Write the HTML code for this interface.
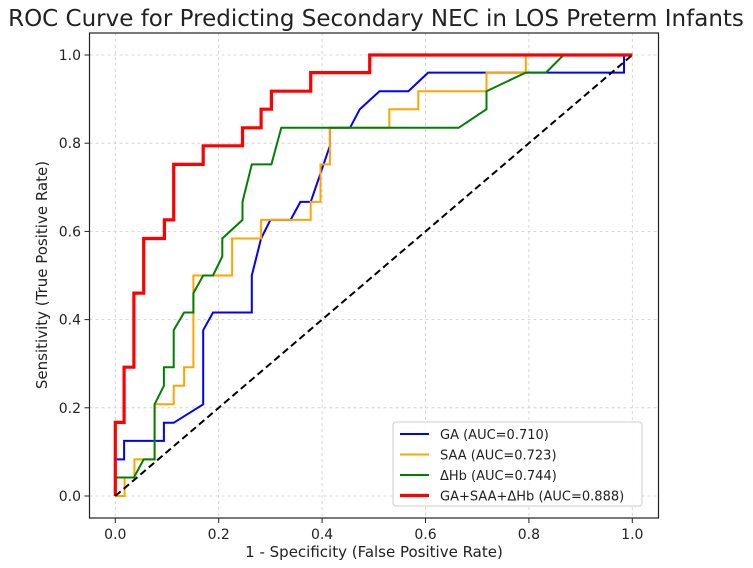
<!DOCTYPE html>
<html><head><meta charset="utf-8"><style>
html,body{margin:0;padding:0;background:#fff;overflow:hidden;}
svg{display:block;font-family:"DejaVu Sans","Liberation Sans",sans-serif;}
</style></head><body>
<svg id="chart" width="753" height="568" viewBox="0 0 753 568">
<text x="376" y="26" text-anchor="middle" font-size="23" fill="#222">ROC Curve for Predicting Secondary NEC in LOS Preterm Infants</text>
<g id="grid"></g>
<g id="series"></g>
<rect x="89.5" y="33" width="569" height="485" fill="none" stroke="#222" stroke-width="1.2"/>
<g id="ticks"></g>
<text x="374" y="557" text-anchor="middle" font-size="15" fill="#222">1 - Specificity (False Positive Rate)</text>
<text transform="translate(47,275) rotate(-90)" text-anchor="middle" font-size="15" fill="#222">Sensitivity (True Positive Rate)</text>
<g id="legend"></g>
</svg>
<script>
const xTicks=[0,0.2,0.4,0.6,0.8,1.0];
const yTicks=[0,0.2,0.4,0.6,0.8,1.0];
const tickLabels=["0.0","0.2","0.4","0.6","0.8","1.0"];
const seriesNames=["GA (AUC=0.710)","SAA (AUC=0.723)","\u0394Hb (AUC=0.744)","GA+SAA+\u0394Hb (AUC=0.888)"];
const gaFpr=[0,0,0.017,0.017,0.094,0.094,0.113,0.170,0.170,0.189,0.264,0.264,0.282,0.300,0.339,0.358,0.378,0.415,0.415,0.454,0.473,0.511,0.567,0.605,0.984,0.984,1];
const gaTpr=[0,0.083,0.083,0.125,0.125,0.166,0.166,0.208,0.376,0.416,0.416,0.50,0.584,0.626,0.626,0.667,0.667,0.794,0.835,0.835,0.877,0.918,0.918,0.96,0.96,1,1];
const saaFpr=[0,0.018,0.018,0.037,0.037,0.055,0.076,0.076,0.113,0.113,0.133,0.133,0.151,0.151,0.226,0.226,0.282,0.282,0.378,0.378,0.397,0.397,0.415,0.415,0.530,0.530,0.586,0.586,0.718,0.718,0.794,0.794,1];
const saaTpr=[0,0,0.042,0.042,0.083,0.083,0.083,0.208,0.208,0.25,0.25,0.292,0.292,0.50,0.50,0.584,0.584,0.626,0.626,0.667,0.667,0.752,0.752,0.835,0.835,0.877,0.877,0.918,0.918,0.96,0.96,1,1];
const hbFpr=[0,0,0.036,0.055,0.076,0.076,0.094,0.094,0.113,0.113,0.133,0.151,0.151,0.170,0.189,0.207,0.207,0.246,0.246,0.264,0.302,0.321,0.664,0.718,0.718,0.794,0.833,0.867,1];
const hbTpr=[0,0.042,0.042,0.083,0.083,0.208,0.25,0.292,0.292,0.376,0.416,0.416,0.46,0.50,0.50,0.543,0.584,0.626,0.667,0.752,0.752,0.835,0.835,0.877,0.918,0.96,0.96,1,1];
const comboFpr=[0,0,0.017,0.017,0.036,0.036,0.055,0.055,0.095,0.095,0.113,0.113,0.170,0.170,0.246,0.246,0.282,0.282,0.302,0.302,0.378,0.378,0.492,0.492,1];
const comboTpr=[0,0.167,0.167,0.292,0.292,0.46,0.46,0.584,0.584,0.626,0.626,0.752,0.752,0.794,0.794,0.835,0.835,0.877,0.877,0.918,0.918,0.96,0.96,1,1];
const colors=["#0000ff","#ffa500","#008000","#ff0000"];
const widths=[2,2,2,3.2];
const NS="http://www.w3.org/2000/svg";
const X=v=>115.3+v*517;
const Y=v=>496-v*441;
function mk(tag,attrs,parent){const e=document.createElementNS(NS,tag);for(const k in attrs)e.setAttribute(k,attrs[k]);parent.appendChild(e);return e;}
const grid=document.getElementById('grid'),ticks=document.getElementById('ticks');
xTicks.forEach((t,i)=>{
 const g=mk('line',{x1:X(t),x2:X(t),y1:33,y2:518,stroke:'#ccc','stroke-dasharray':'3,3','stroke-width':0.8},grid);
 
 
 const tk=mk('line',{x1:X(t),x2:X(t),y1:518,y2:523,stroke:'#222'},ticks);
 
 
 const tx=mk('text',{x:X(t),y:539,'text-anchor':'middle','font-size':14,fill:'#222'},ticks);
 tx.textContent=tickLabels[i];
 
 
});
yTicks.forEach((t,i)=>{
 const g=mk('line',{x1:89.5,x2:658.5,y1:Y(t),y2:Y(t),stroke:'#ccc','stroke-dasharray':'3,3','stroke-width':0.8},grid);
 
 
 const tk=mk('line',{x1:84.5,x2:89.5,y1:Y(t),y2:Y(t),stroke:'#222'},ticks);
 
 
 const tx=mk('text',{x:81,y:Y(t)+5,'text-anchor':'end','font-size':14,fill:'#222'},ticks);
 tx.textContent=tickLabels[i];
 
 
});
const ser=document.getElementById('series');
const data=[[gaFpr,gaTpr],[saaFpr,saaTpr],[hbFpr,hbTpr],[comboFpr,comboTpr]];
const names=['ga-roc-line','saa-roc-line','hb-roc-line','combined-roc-line'];
data.forEach((d,i)=>{
 const pts=d[0].map((x,j)=>X(x).toFixed(1)+','+Y(d[1][j]).toFixed(1)).join(' ');
 const p=mk('polyline',{points:pts,fill:'none',stroke:colors[i],'stroke-width':widths[i],'stroke-linejoin':'miter'},ser);
 
 
});
const diag=mk('line',{x1:X(0),y1:Y(0),x2:X(1),y2:Y(1),stroke:'#000','stroke-width':2,'stroke-dasharray':'7,4'},ser);


const lg=document.getElementById('legend');
const box=mk('rect',{x:393,y:422,width:249,height:84,rx:3,fill:'#fff',stroke:'#ccc','fill-opacity':0.9},lg);


seriesNames.forEach((n,i)=>{
 const y=434+i*20.5;
 const l=mk('line',{x1:400,x2:429,y1:y,y2:y,stroke:colors[i],'stroke-width':widths[i]},lg);
 
 
 const t=mk('text',{x:440,y:y+5,'font-size':13,fill:'#222'},lg);
 t.textContent=n;
 
 
});
</script>
</body></html>
